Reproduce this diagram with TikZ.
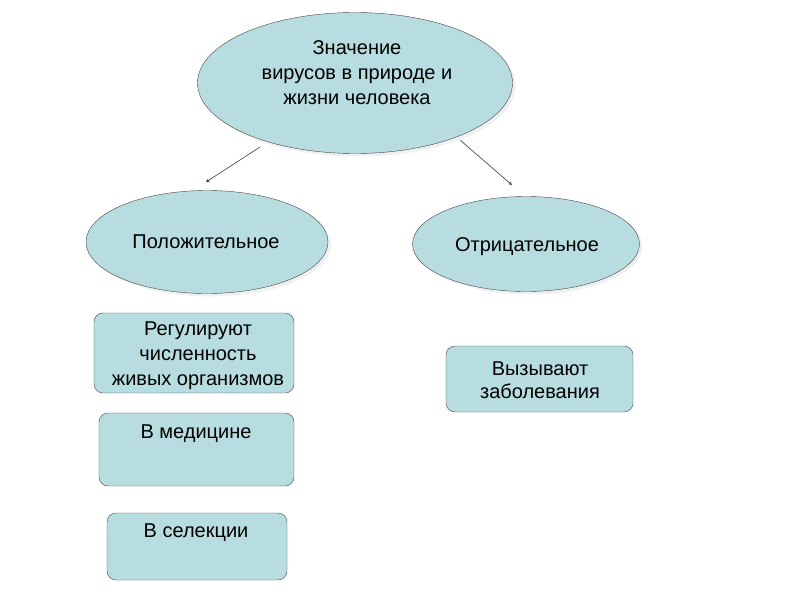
\documentclass[tikz,border=0pt]{standalone}
\usepackage{fontspec}
\setmainfont{Liberation Sans}
\usetikzlibrary{shapes.geometric, arrows, shadows}

\definecolor{virfill}{RGB}{183,221,224}
\definecolor{virline}{RGB}{70,70,70}

\begin{document}
\begin{tikzpicture}[x=1pt, y=-1pt,
	oval/.style={ellipse, draw=virline, fill=virfill, inner sep=0pt,
		drop shadow={opacity=0.12, shadow xshift=3pt, shadow yshift=-3pt}},
	card/.style={rectangle, rounded corners=9pt, draw=virline, fill=virfill, inner sep=0pt},
	txt/.style={font=\fontsize{20}{25}\selectfont, inner sep=0pt},
	>=stealth]
	\useasboundingbox (0,0) rectangle (800,600);
	% ellipses
	\node (root) [oval, minimum width=315pt, minimum height=141pt] at (355,83) {};
	\node (pos) [oval, minimum width=242pt, minimum height=103pt] at (207,242) {};
	\node (neg) [oval, minimum width=227pt, minimum height=95pt] at (526,244) {};
	% boxes
	\node (reg) [card, minimum width=200pt, minimum height=80pt] at (194,353) {};
	\node (med) [card, minimum width=195pt, minimum height=73pt] at (196.5,449.5) {};
	\node (sel) [card, minimum width=180pt, minimum height=67pt] at (197,546.5) {};
	\node (dis) [card, minimum width=187pt, minimum height=66pt] at (539.5,379) {};
	% texts
	\node (rootT) [txt, align=center] at (357,73) {Значение\\вирусов в природе и\\жизни человека};
	\node (posT) [txt] at (206,242) {Положительное};
	\node (negT) [txt] at (527,247) {Отрицательное};
	\node (regT) [txt, align=center] at (198,356) {Регулируют\\численность\\живых организмов};
	\node (medT) [txt] at (196,434) {В медицине};
	\node (selT) [txt] at (196,533) {В селекции};
	\node (disT) [txt, align=center, font=\fontsize{20}{23.5}\selectfont] at (540,380) {Вызывают\\заболевания};
	% arrows
	\coordinate (aL) at (260,147);
	\coordinate (aR) at (460,140);
	\coordinate (bL) at (206,182);
	\coordinate (bR) at (512,185);
	\draw [->, virline!80!black, line width=0.6pt] (aL) -- (bL);
	\draw [->, virline!80!black, line width=0.6pt] (aR) -- (bR);
\end{tikzpicture}
\end{document}
